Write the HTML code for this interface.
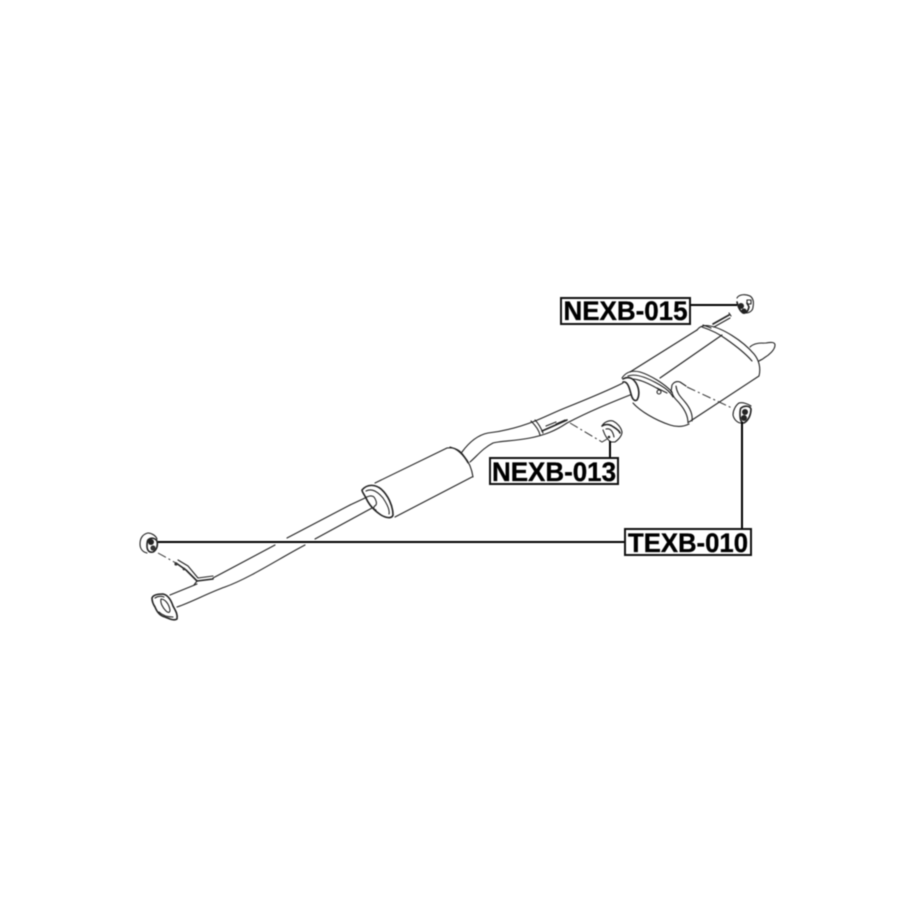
<!DOCTYPE html>
<html>
<head>
<meta charset="utf-8">
<style>
html,body{margin:0;padding:0;background:#fff;width:915px;height:915px;overflow:hidden}
svg{display:block;filter:blur(0.4px)}
text{font-family:"Liberation Sans",sans-serif;font-weight:bold;font-size:26.5px;fill:#000;stroke:#000;stroke-width:.35}
.l{fill:none;stroke:#222;stroke-width:1.1;stroke-linejoin:round;stroke-linecap:round}
.t{fill:none;stroke:#222;stroke-width:1.6;stroke-linejoin:round;stroke-linecap:round}
.d{fill:none;stroke:#333;stroke-width:1;stroke-dasharray:9 3 2 3}
.k{fill:none;stroke:#000;stroke-width:2}
.b{fill:#fff;stroke:#111;stroke-width:2}
</style>
</head>
<body>
<svg width="915" height="915" viewBox="0 0 915 915" xmlns="http://www.w3.org/2000/svg">
<rect width="915" height="915" fill="#fff"/>

<!-- tail pipe -->
<path class="l" d="M750 347C754 343 760 343 766 343C771 342 775 342 775 345C775 350 769 355 764 358C762 360 760 360 759 361"/>

<!-- rear muffler -->
<path class="l" d="M630 372L697 330"/>
<path class="l" d="M660 378L722 335"/>
<path class="l" d="M697 330C700 326 705 325 710 326C722 328 742 340 754 354C759 360 761 368 759 376L689 422"/>
<path class="l" d="M702 327C708 329 718 333 726 339C736 346 746 354 752 361"/>
<path class="l" d="M622 378C626 372 632 370 640 372C650 375 665 384 672 392"/>
<path class="l" d="M628 376C636 373 648 378 660 385C667 389 671 393 673 397"/>
<path class="l" d="M632 379C640 379 650 384 660 390"/>
<path class="t" d="M623 379C628 376 633 378 636 383C639 388 640 395 637 400C634 402 632 398 631 394C629 386 627 381 623 382"/>
<path class="l" d="M633 403C640 411 655 420 670 425C676 427 683 427 689 424"/>
<path class="l" d="M671 392L672 385C674 382 677 381 680 382L686 386"/>
<path class="l" d="M672 392C673 398 677 400 680 404C685 410 688 416 688 423"/>
<path class="l" d="M676 386C677 394 681 397 685 402C690 408 693 414 692 421"/>
<circle class="l" cx="659" cy="392" r="2"/>
<path class="l" d="M657 388L667 393"/>

<!-- mid pipe -->
<path class="l" d="M623 383C605 392 585 400 565 408C555 412 545 417 535 421C520 427 505 431 488 433C478 435 470 441 462 452"/>
<path class="l" d="M630 395C610 403 590 411 567 423C555 431 545 435 530 438C515 441 500 441 493 443C483 448 477 456 470 462"/>
<path class="l" d="M531 421C535 425 539 430 540 435"/>
<path class="l" d="M535 420C539 424 541 428 543 433"/>
<path class="t" d="M542 431L567 420"/>
<path class="l" d="M546 426L556 422M556 424L565 420"/>

<!-- centre muffler -->
<path class="l" d="M375 483L447 448"/>
<path class="l" d="M395 517L472 477"/>
<path class="l" d="M447 448C454 447 460 450 464 456C469 462 472 470 473 477"/>
<path class="l" d="M450 447C458 449 464 456 468 463"/>
<path class="t" d="M362 490C367 484 375 484 381 489C388 495 393 506 393 515C392 519 386 518 381 515C375 511 369 505 366 498C364 494 362 492 362 490Z"/>
<path class="l" d="M366 491C372 488 378 492 383 498C387 504 390 510 389 514"/>
<path class="l" d="M350 505L365 498C368 496 372 495 374 497C376 500 377 503 376 505C373 507 373 509 376 510"/>

<!-- front pipe -->
<path class="l" d="M350 505L287 538"/>
<path class="l" d="M275 545L213 578"/>
<path class="l" d="M372 508L315 539"/>
<path class="l" d="M305 545C280 558 250 578 225 587C208 593 192 602 177 607"/>
<path class="l" d="M197 584L170 595"/>

<!-- hanger -->
<path class="t" d="M213 579L197 581L186 570L176 563"/>
<path class="l" d="M213 576L198 578L188 566L178 560"/>
<path class="l" d="M197 581L194 585"/>
<circle cx="176" cy="564" r="1.6" fill="#333"/>
<circle cx="184" cy="569" r="1.4" fill="#333"/>

<!-- flange -->
<path class="t" d="M152 598C153 595 158 594 163 594C168 595 171 600 173 606C175 610 178 614 177 619C174 621 170 619 165 617C160 616 157 612 155 607C153 604 152 601 152 598Z"/>
<path class="l" d="M161 599C165 599 169 604 170 610C170 613 168 613 166 611C163 608 160 603 161 599Z"/>
<path class="l" d="M155 598C158 596 161 596 164 597M159 612C162 615 167 617 173 617"/>

<!-- left bushing -->
<path class="l" d="M148 533C143 534 140 538 140 544C140 549 143 552 147 553"/>
<path class="l" d="M148 533C152 533 156 536 157 539"/>
<path class="t" d="M148 540C151 537 155 538 157 541C158 545 157 550 153 552C149 553 147 550 147 546C147 543 147 541 148 540Z"/>
<circle cx="151" cy="542" r="3" fill="#222"/>
<circle cx="153" cy="548" r="2.6" fill="#333"/>

<!-- left dash -->
<path class="d" d="M158 553L176 563"/>

<!-- top-right bushing -->
<path class="l" d="M737 298C739 294 746 294 750 296C753 298 754 302 753 307C753 310 750 313 746 313"/>
<path class="t" d="M737 302C738 306 739 310 743 313C746 314 748 311 749 307L747 303"/>
<circle cx="741" cy="306" r="3" fill="#222"/>
<circle cx="744" cy="311" r="2.6" fill="#222"/>
<path class="l" d="M747 300L751 300L751 304L747 304Z"/>
<!-- bolt -->
<path class="t" d="M713 324L729 315"/>
<path class="l" d="M711 328L703 325M729 313L731 316"/>
<path class="l" d="M714 327L730 318"/>

<!-- centre bushing -->
<path class="l" d="M602 426C604 422 609 420 613 421C617 423 621 427 622 432C622 436 618 440 615 442L611 442C606 439 604 433 603 430"/>
<path class="t" d="M602 426C605 424 609 424 612 426C615 428 619 430 620 433"/>
<path class="l" d="M606 429C611 428 613 432 614 437"/>
<circle cx="609" cy="437" r="1.3" fill="#222"/>
<path class="d" d="M570 423L602 442L607 439"/>

<!-- right bushing -->
<path class="l" d="M739 403C736 405 733 410 733 415C734 420 738 423 741 423"/>
<path class="l" d="M739 403C743 402 748 404 751 406"/>
<path class="t" d="M741 408C745 405 750 406 751 409C751 414 749 420 744 423C741 423 740 419 740 414C740 411 740 409 741 408Z"/>
<circle cx="745" cy="412" r="3" fill="#222"/>
<circle cx="744" cy="418" r="3" fill="#222"/>
<path class="d" d="M687 387L732 408"/>

<!-- leader lines -->
<path class="k" d="M158 542H624"/>
<path class="k" d="M742 422V528"/>
<path class="k" d="M690 305H737" stroke-width="1.6"/>
<path class="k" d="M610 441V457" stroke-width="1.6"/>

<!-- labels -->
<rect class="b" x="561" y="298" width="129" height="26"/>
<text x="625.5" y="320" text-anchor="middle" textLength="124" lengthAdjust="spacingAndGlyphs">NEXB-015</text>
<rect class="b" x="490" y="458" width="128" height="26"/>
<text x="554" y="481" text-anchor="middle" textLength="124" lengthAdjust="spacingAndGlyphs">NEXB-013</text>
<rect class="b" x="625" y="529" width="126" height="26"/>
<text x="688" y="552" text-anchor="middle" textLength="120" lengthAdjust="spacingAndGlyphs">TEXB-010</text>
</svg>
</body>
</html>
